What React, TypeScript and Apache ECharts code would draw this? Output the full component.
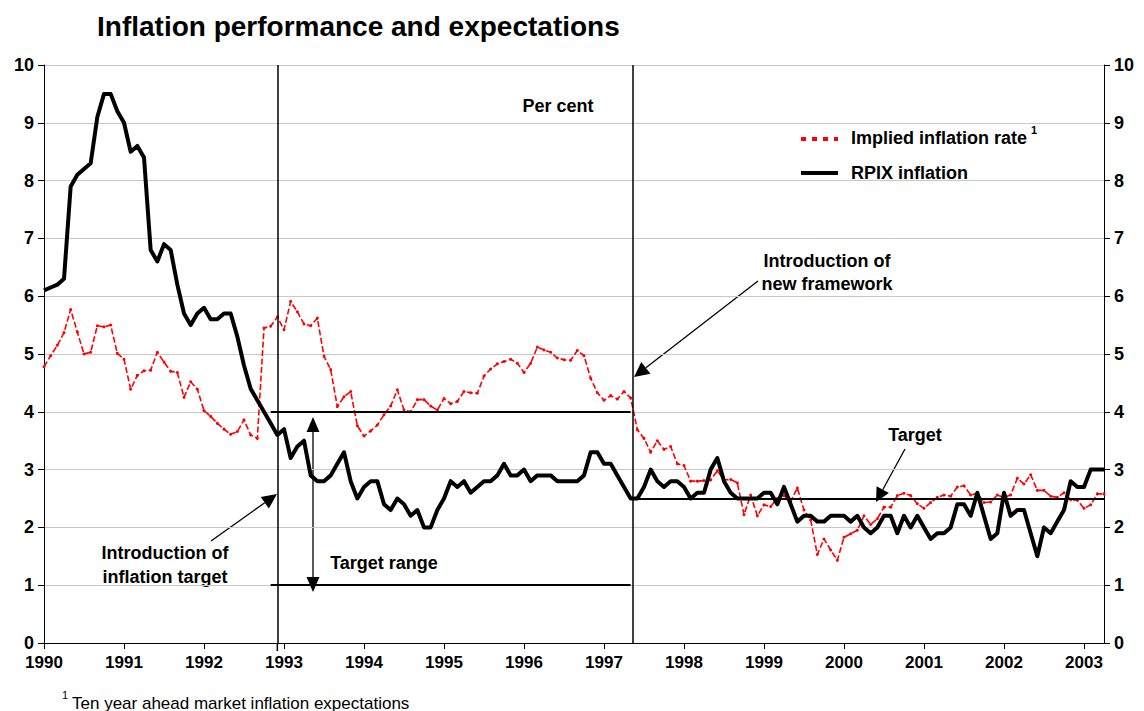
import React, { useEffect, useRef } from 'react';
import * as echarts from 'echarts';

// Tick labels (one per January, months counted from Jan 1990)
const yearLabels = ['1990', '1991', '1992', '1993', '1994', '1995', '1996', '1997', '1998', '1999', '2000', '2001', '2002', '2003'];
const monthsInYear = 12;
const lastMonthIndex = 159; // April 2003

// RPIX inflation, monthly from Jan 1990 (per cent)
const rpix = [
  6.1, 6.15, 6.2, 6.3, 7.9, 8.1, 8.2, 8.3, 9.1, 9.5, 9.5, 9.2,
  9.0, 8.5, 8.6, 8.4, 6.8, 6.6, 6.9, 6.8, 6.2, 5.7, 5.5, 5.7,
  5.8, 5.6, 5.6, 5.7, 5.7, 5.3, 4.8, 4.4, 4.2, 4.0, 3.8, 3.6,
  3.7, 3.2, 3.4, 3.5, 2.9, 2.8, 2.8, 2.9, 3.1, 3.3, 2.8, 2.5,
  2.7, 2.8, 2.8, 2.4, 2.3, 2.5, 2.4, 2.2, 2.3, 2.0, 2.0, 2.3,
  2.5, 2.8, 2.7, 2.8, 2.6, 2.7, 2.8, 2.8, 2.9, 3.1, 2.9, 2.9,
  3.0, 2.8, 2.9, 2.9, 2.9, 2.8, 2.8, 2.8, 2.8, 2.9, 3.3, 3.3,
  3.1, 3.1, 2.9, 2.7, 2.5, 2.5, 2.7, 3.0, 2.8, 2.7, 2.8, 2.8,
  2.7, 2.5, 2.6, 2.6, 3.0, 3.2, 2.8, 2.6, 2.5, 2.5, 2.5, 2.5,
  2.6, 2.6, 2.4, 2.7, 2.4, 2.1, 2.2, 2.2, 2.1, 2.1, 2.2, 2.2,
  2.2, 2.1, 2.2, 2.0, 1.9, 2.0, 2.2, 2.2, 1.9, 2.2, 2.0, 2.2,
  2.0, 1.8, 1.9, 1.9, 2.0, 2.4, 2.4, 2.2, 2.6, 2.2, 1.8, 1.9,
  2.6, 2.2, 2.3, 2.3, 1.9, 1.5, 2.0, 1.9, 2.1, 2.3, 2.8, 2.7,
  2.7, 3.0, 3.0, 3.0,
];

// Implied inflation rate (ten year ahead market expectations), monthly from Jan 1990
const implied = [
  4.78, 4.97, 5.15, 5.37, 5.77, 5.38, 5.0, 5.03, 5.49, 5.47, 5.5, 5.01,
  4.91, 4.39, 4.63, 4.71, 4.72, 5.03, 4.86, 4.7, 4.68, 4.25, 4.52, 4.39,
  4.02, 3.92, 3.8, 3.7, 3.61, 3.66, 3.86, 3.6, 3.54, 5.45, 5.48, 5.64,
  5.42, 5.91, 5.73, 5.52, 5.49, 5.62, 4.96, 4.73, 4.09, 4.26, 4.35, 3.76,
  3.58, 3.67, 3.77, 3.95, 4.1, 4.38, 4.03, 4.0, 4.21, 4.21, 4.1, 4.03,
  4.23, 4.14, 4.18, 4.35, 4.33, 4.32, 4.62, 4.74, 4.83, 4.87, 4.91, 4.84,
  4.68, 4.84, 5.12, 5.07, 5.03, 4.93, 4.9, 4.89, 5.06, 4.97, 4.58, 4.33,
  4.2, 4.28, 4.22, 4.35, 4.24, 3.69, 3.54, 3.3, 3.5, 3.35, 3.4, 3.1,
  3.07, 2.8, 2.8, 2.81, 2.82, 2.98, 2.82, 2.83, 2.77, 2.22, 2.56, 2.2,
  2.39, 2.36, 2.5, 2.55, 2.45, 2.68, 2.3, 2.13, 1.53, 1.8, 1.61, 1.43,
  1.83, 1.89, 1.95, 2.2, 2.05, 2.15, 2.35, 2.35, 2.55, 2.59, 2.55, 2.41,
  2.33, 2.43, 2.52, 2.56, 2.54, 2.7, 2.72, 2.56, 2.59, 2.43, 2.44, 2.56,
  2.52, 2.56, 2.85, 2.75, 2.91, 2.64, 2.64, 2.54, 2.52, 2.6, 2.48, 2.47,
  2.33, 2.39, 2.58, 2.58,
];

// Policy reference values
const inflationTarget = 2.5;
const targetRangeLow = 1;
const targetRangeHigh = 4;
const targetIntroMonth = 35; // Dec 1992
const frameworkMonth = 88.3; // May 1997
const rangeStartMonth = 34;
const rangeEndMonth = 88;

const FONT = '"Liberation Sans", Arial, Helvetica, sans-serif';

function txt(x: number, y: number, text: string, size: number, bold = true, align = 'left') {
  return {
    type: 'text',
    silent: true,
    style: {
      x, y, text,
      font: `${bold ? 'bold ' : ''}${size}px ${FONT}`,
      fill: '#000',
      align, verticalAlign: 'middle',
      textAlign: align, textVerticalAlign: 'middle',
    },
  };
}

function arrowHead(tx: number, ty: number, fx: number, fy: number, len: number, wid: number) {
  const dx = tx - fx, dy = ty - fy;
  const L = Math.hypot(dx, dy);
  const ux = dx / L, uy = dy / L;
  const bx = tx - ux * len, by = ty - uy * len;
  const nx = -uy, ny = ux;
  return {
    poly: {
      type: 'polygon', silent: true,
      shape: { points: [[tx, ty], [bx + nx * wid / 2, by + ny * wid / 2], [bx - nx * wid / 2, by - ny * wid / 2]] },
      style: { fill: '#000' },
    },
    base: [bx, by],
  };
}

function arrow(x1: number, y1: number, x2: number, y2: number, len: number, wid: number, lw = 1.3) {
  const h = arrowHead(x2, y2, x1, y1, len, wid);
  return [
    { type: 'line', silent: true, shape: { x1, y1, x2: h.base[0], y2: h.base[1] }, style: { stroke: '#000', lineWidth: lw } },
    h.poly,
  ];
}

function doubleArrow(x1: number, y1: number, x2: number, y2: number, len: number, wid: number, lw = 1.3) {
  const a = arrowHead(x2, y2, x1, y1, len, wid);
  const b = arrowHead(x1, y1, x2, y2, len, wid);
  return [
    { type: 'line', silent: true, shape: { x1: b.base[0], y1: b.base[1], x2: a.base[0], y2: a.base[1] }, style: { stroke: '#000', lineWidth: lw } },
    a.poly, b.poly,
  ];
}

export default function App() {
  const ref = useRef<HTMLDivElement>(null);

  useEffect(() => {
    const chart = echarts.init(ref.current!, null, { renderer: 'svg' });

    const rpixData = rpix.map((v, i) => [i, v]);
    const impliedData = implied.map((v, i) => [i, v]);

    const yAxisCommon = {
      type: 'value',
      min: 0,
      max: 10,
      interval: 1,
      axisLine: { show: true, lineStyle: { color: '#000', width: 1 } },
      axisTick: { show: true, inside: false, length: 6, lineStyle: { color: '#000' } },
      axisLabel: { color: '#000', fontFamily: FONT, fontWeight: 'bold', fontSize: 18, margin: 10 },
    };

    const graphics: any[] = [
      txt(97, 26, 'Inflation performance and expectations', 28, true),
      txt(558, 106, 'Per cent', 18, true, 'center'),
      // legend
      { type: 'line', silent: true, shape: { x1: 801, y1: 139, x2: 838, y2: 139 }, style: { stroke: '#ff0000', lineWidth: 4, lineDash: [5, 6] } },
      txt(851, 138, 'Implied inflation rate', 18, true),
      txt(1031, 130, '1', 11, true),
      { type: 'line', silent: true, shape: { x1: 801, y1: 173, x2: 838, y2: 173 }, style: { stroke: '#000', lineWidth: 4 } },
      txt(851, 173, 'RPIX inflation', 18, true),
      // annotations
      txt(827, 261, 'Introduction of', 18, true, 'center'),
      txt(827, 284, 'new framework', 18, true, 'center'),
      ...arrow(758, 281, 634, 377, 15, 15),
      txt(915, 435, 'Target', 18, true, 'center'),
      ...arrow(905, 449, 876, 502, 14, 14),
      txt(165, 553, 'Introduction of', 18, true, 'center'),
      txt(165, 577, 'inflation target', 18, true, 'center'),
      ...arrow(211, 541, 277, 494, 15, 14),
      txt(384, 563, 'Target range', 18, true, 'center'),
      ...doubleArrow(313, 417, 313, 592, 15, 13),
      // footnote
      txt(62, 695, '1', 11, false),
      txt(72, 703, 'Ten year ahead market inflation expectations', 17, false),
    ];

    chart.setOption({
      animation: false,
      backgroundColor: '#fff',
      textStyle: { fontFamily: FONT },
      grid: { left: 44, right: 40, top: 65, bottom: 68, containLabel: false },
      xAxis: {
        type: 'value',
        min: 0,
        max: lastMonthIndex,
        interval: monthsInYear,
        axisLine: { show: true, onZero: false, lineStyle: { color: '#000', width: 1 } },
        axisTick: { show: true, inside: false, length: 6, lineStyle: { color: '#000' } },
        splitLine: { show: false },
        axisLabel: {
          color: '#000', fontFamily: FONT, fontWeight: 'bold', fontSize: 17, margin: 11,
          showMaxLabel: false,
          formatter: (v: number) => (v % monthsInYear === 0 ? yearLabels[v / monthsInYear] ?? '' : ''),
        },
      },
      yAxis: [
        { ...yAxisCommon, position: 'left', splitLine: { show: true, lineStyle: { color: '#c8c8c8', width: 1 } } },
        { ...yAxisCommon, position: 'right', splitLine: { show: false } },
      ],
      series: [
        {
          name: 'Implied inflation rate',
          type: 'line',
          data: impliedData,
          symbol: 'circle',
          symbolSize: 3,
          showSymbol: true,
          itemStyle: { color: '#ff0000' },
          lineStyle: { color: '#ff0000', width: 1.6, type: [6, 2.5] },
          z: 3,
        },
        {
          name: 'RPIX inflation',
          type: 'line',
          data: rpixData,
          symbol: 'none',
          lineStyle: { color: '#000', width: 4, join: 'round' },
          z: 4,
          markLine: {
            silent: true,
            symbol: ['none', 'none'],
            label: { show: false },
            animation: false,
            data: [
              [{ coord: [targetIntroMonth, 0], lineStyle: { color: '#000', width: 1.5, type: 'solid' } }, { coord: [targetIntroMonth, 10] }],
              [{ coord: [frameworkMonth, 0], lineStyle: { color: '#000', width: 1.5, type: 'solid' } }, { coord: [frameworkMonth, 10] }],
              [{ coord: [rangeStartMonth, targetRangeHigh], lineStyle: { color: '#000', width: 2, type: 'solid' } }, { coord: [rangeEndMonth, targetRangeHigh] }],
              [{ coord: [rangeStartMonth, targetRangeLow], lineStyle: { color: '#000', width: 2, type: 'solid' } }, { coord: [rangeEndMonth, targetRangeLow] }],
              [{ coord: [frameworkMonth, inflationTarget], lineStyle: { color: '#000', width: 2, type: 'solid' } }, { coord: [lastMonthIndex, inflationTarget] }],
            ],
          },
        },
      ],
      graphic: graphics,
    });

    // small extension of the target-introduction line below the axis
    const p0 = chart.convertToPixel({ gridIndex: 0 }, [targetIntroMonth, 0]) as number[];
    if (p0) {
      chart.setOption({
        graphic: [
          ...graphics,
          { type: 'line', silent: true, shape: { x1: p0[0], y1: p0[1], x2: p0[0], y2: p0[1] + 8 }, style: { stroke: '#000', lineWidth: 1.5 } },
        ],
      });
    }

    return () => chart.dispose();
  }, []);

  return (
    <div
      ref={ref}
      style={{ position: 'fixed', left: 0, top: 0, width: 1144, height: 711, background: '#fff' }}
    />
  );
}
